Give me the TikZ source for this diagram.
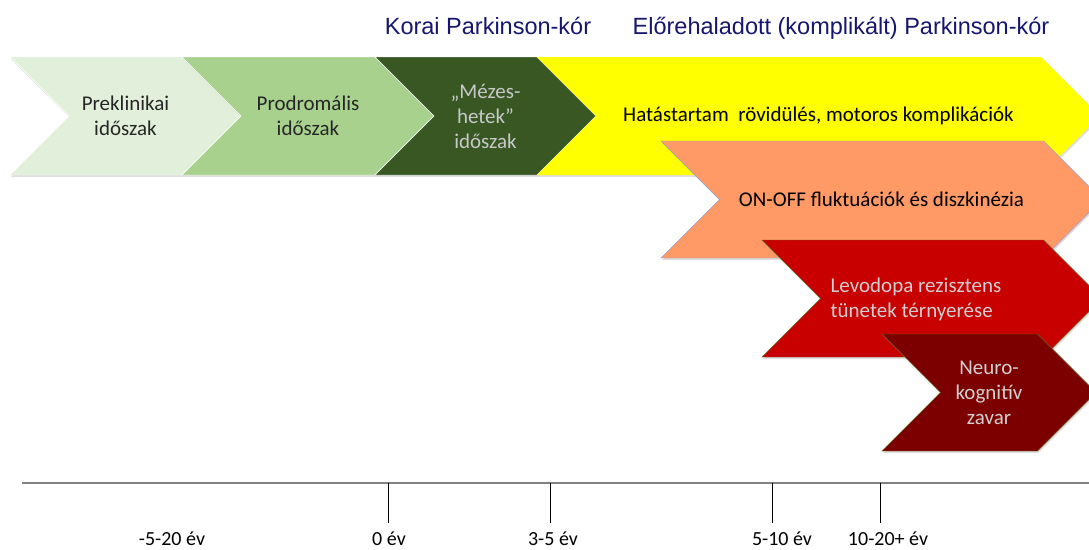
\documentclass[tikz,border=0pt]{standalone}
\usepackage{fontspec}
\setmainfont{Carlito}
\newfontfamily\headfont{Liberation Sans}
\usetikzlibrary{shapes.symbols, shadows}

\definecolor{preGreen}{HTML}{E2EFDA}
\definecolor{proGreen}{HTML}{A9D18E}
\definecolor{honeyGreen}{HTML}{385723}
\definecolor{wearYellow}{HTML}{FFFF00}
\definecolor{onoffOrange}{HTML}{FF9A66}
\definecolor{levoRed}{HTML}{C80000}
\definecolor{cogRed}{HTML}{7C0000}
\definecolor{headBlue}{HTML}{16166E}
\definecolor{paleText}{HTML}{D0D0D0}

\begin{document}
\begin{tikzpicture}[x=1pt, y=-1pt,
  phase/.style={signal, signal to=east, signal from=west, signal pointer angle=90,
    minimum height=118pt, inner sep=0pt, align=center,
    font=\fontsize{21}{25}\selectfont,
    drop shadow={opacity=0.25, shadow xshift=1pt, shadow yshift=-2pt}},
  yearlabel/.style={font=\fontsize{20}{22}\selectfont, anchor=base, inner sep=0pt},
  heading/.style={font=\headfont\fontsize{23.5}{26}\selectfont, text=headBlue, anchor=base},
  axisline/.style={draw=gray, line width=1.6pt},
  tickmark/.style={draw=black, line width=0.8pt}
]
\clip (0,0) rectangle (1089,549);
\useasboundingbox (0,0) rectangle (1089,549);

% headings
\node[heading] (korai) at (488,34) {Korai Parkinson-kór};
\node[heading] (elore) at (841,34) {Előrehaladott (komplikált) Parkinson-kór};

% early phases
\node[phase, fill=preGreen, draw=white, minimum width=231pt, text=black!85] (preklin) at (125.5,116) {Preklinikai\\időszak};
\node[phase, fill=proGreen, draw=white, minimum width=252pt, text=black!85] (prodrom) at (308,116) {Prodromális\\időszak};
\node[phase, fill=honeyGreen, draw=white, minimum width=221pt, text=paleText!90!gray] (honey) at (485.5,116) {„Mézes-\\hetek”\\időszak};

% advanced phases
\node[phase, fill=wearYellow, minimum width=563pt, text=black] (wearoff) at (818.5,116) {Hatástartam\ \ rövidülés, motoros komplikációk};
\node[phase, fill=onoffOrange, draw=blue!30!gray!60, minimum height=117pt, minimum width=441pt, text=black] (onoff) at (881.5,199.5) {ON-OFF fluktuációk és diszkinézia};
\node[phase, fill=levoRed, draw=olive!70!black, minimum height=117pt, minimum width=340pt] (levodopa) at (932,298.5) {};
\node[align=left, font=\fontsize{21}{25}\selectfont, text=paleText] (levotext) at (916,299) {Levodopa rezisztens\\tünetek térnyerése};
\node[phase, fill=cogRed, draw=olive!70!black, minimum height=117pt, minimum width=214pt, text=paleText] (cognitive) at (989,392.5) {Neuro-\\kognitív\\zavar};

% time axis
\coordinate (axL) at (22,483);
\coordinate (axR) at (1089,483);
\draw[axisline] (axL) -- (axR);

\coordinate (t0) at (388,483);
\coordinate (t35) at (550,483);
\coordinate (t510) at (772,483);
\coordinate (t1020) at (880,483);
\foreach \t in {t0, t35, t510, t1020}
  \draw[tickmark] (\t) -- ++(0,40);

\node[yearlabel] (yPre) at (172,545) {-5-20 év};
\node[yearlabel] (y0) at (389,545) {0 év};
\node[yearlabel] (y35) at (553,545) {3-5 év};
\node[yearlabel] (y510) at (782,545) {5-10 év};
\node[yearlabel] (y1020) at (888,545) {10-20+ év};

\end{tikzpicture}
\end{document}
